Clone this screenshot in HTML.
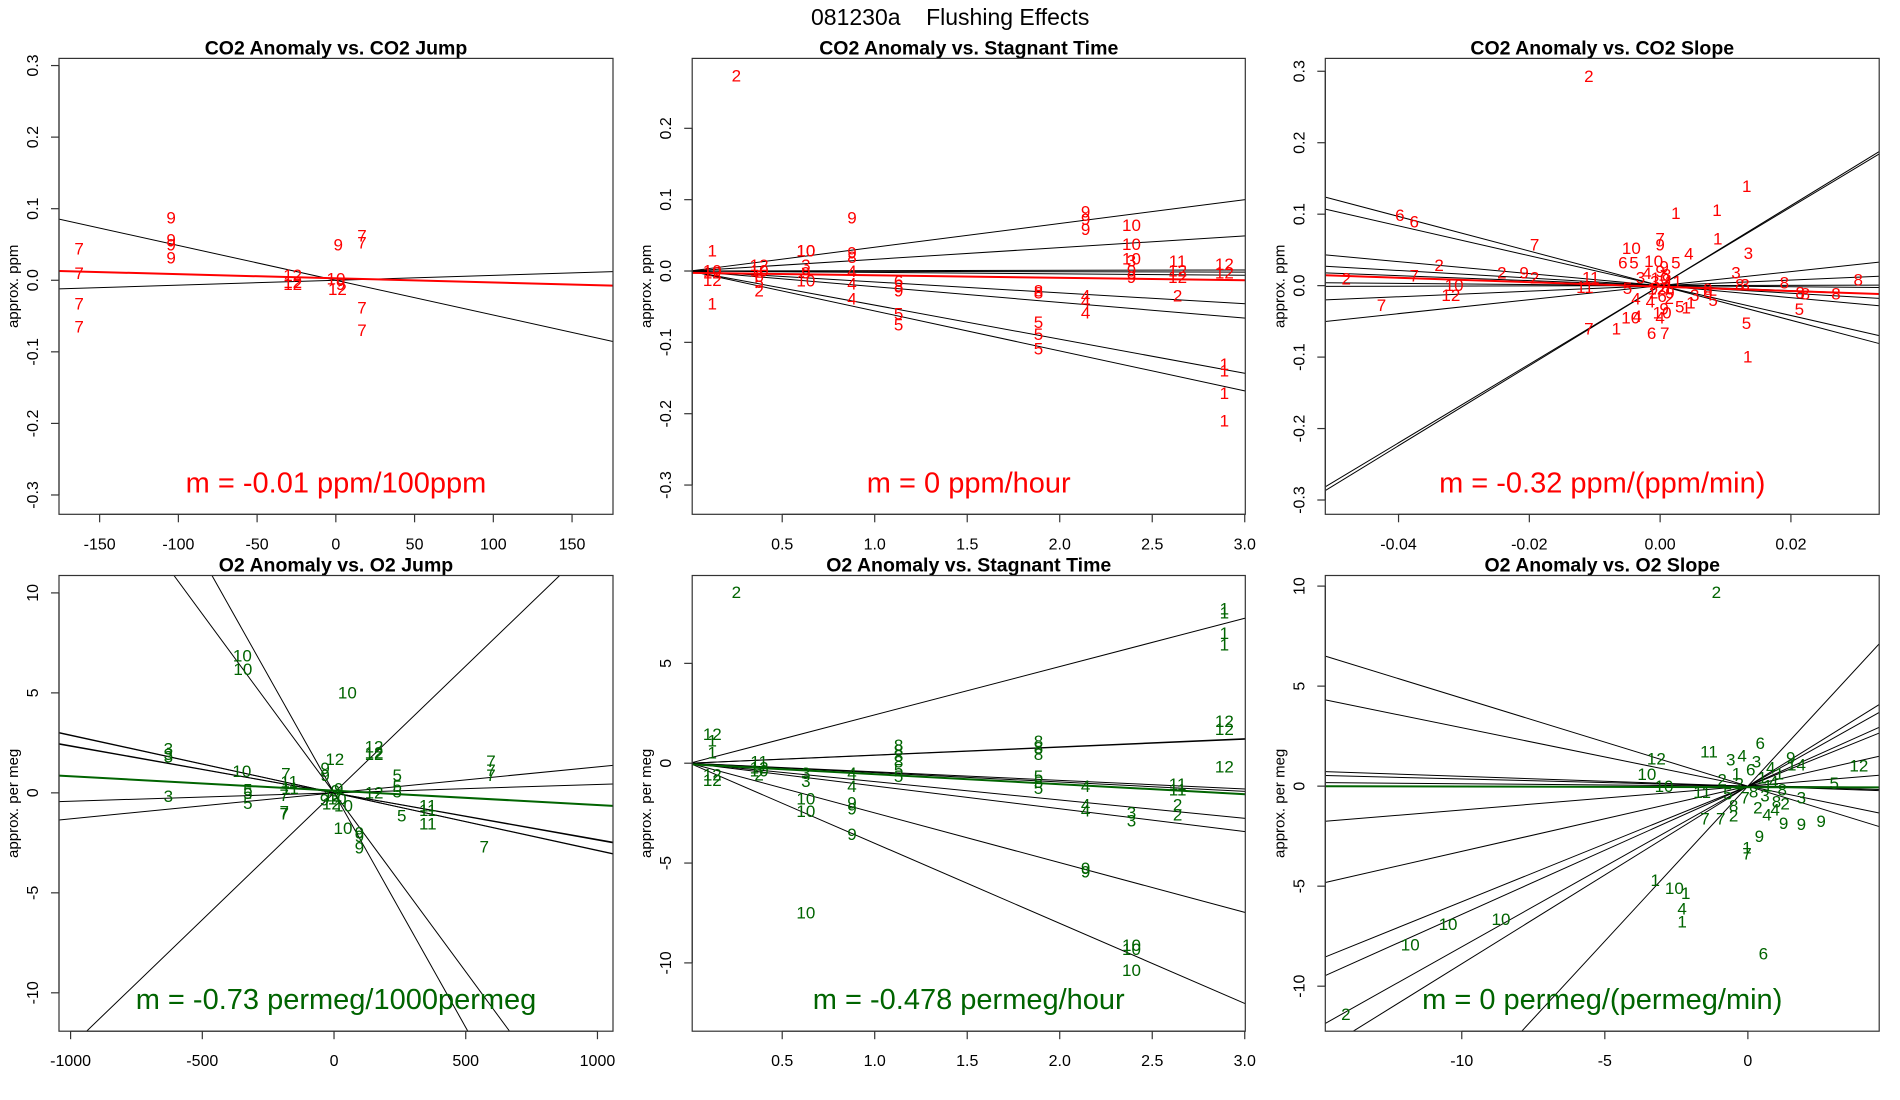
<!DOCTYPE html>
<html><head><meta charset="utf-8"><title>081230a Flushing Effects</title>
<style>
html,body{margin:0;padding:0;background:#fff;width:1900px;height:1100px;overflow:hidden;}
svg{display:block;font-family:"Liberation Sans",Arial,sans-serif;}
</style></head>
<body>
<svg id="chart" width="1900" height="1100" viewBox="0 0 1900 1100" xmlns="http://www.w3.org/2000/svg">
<rect x="0" y="0" width="1900" height="1100" fill="#fff"/>
<text x="811" y="25" font-size="23" fill="#000" xml:space="preserve">081230a    Flushing Effects</text>
</svg>
<script>
// ---------- Panel 1: CO2 Anomaly vs CO2 Jump ----------
const p1X = [-163,-163,-163,-163,-104.6,-104.6,-104.6,-104.6,-27.4,-27.4,-27.4,0.1,1.5,3,1,16.6,16.6,16.6,16.6];
const p1Y = [0.044,0.0095,-0.033,-0.065,0.087,0.056,0.049,0.031,0.007,-0.0056,-0.003,0.002,0.049,-0.006,-0.013,0.062,0.052,-0.039,-0.0705];
const p1L = ["7","7","7","7","9","9","9","9","12","12","12","10","9","9","12","7","7","7","7"];
const p1Slopes = [-0.000486,0.0000682];
const p1Ints = [0,0];
const p1Fit = [-0.0000582,0.0027];
const p1XTicks = [-150,-100,-50,0,50,100,150];
const p1XTickLabels = ["-150","-100","-50","0","50","100","150"];
const p1YTicks = [-0.3,-0.2,-0.1,0,0.1,0.2,0.3];
const p1YTickLabels = ["-0.3","-0.2","-0.1","0.0","0.1","0.2","0.3"];

// ---------- Panel 2: CO2 Anomaly vs Stagnant Time ----------
const p2X = [0.252,0.122,0.122,0.122,0.122,0.122,0.375,0.375,0.375,0.375,0.375,0.628,0.628,0.628,0.628,0.628,0.877,0.877,0.877,0.877,0.877,0.877,1.129,1.129,1.129,1.129,1.129,1.885,1.885,1.885,1.885,1.885,2.14,2.14,2.14,2.14,2.14,2.14,2.388,2.388,2.388,2.388,2.388,2.388,2.637,2.637,2.637,2.637,2.89,2.89,2.89,2.89,2.89,2.89];
const p2Y = [0.273,0.028,-0.046,0.0,-0.003,-0.013,0.008,0.0,-0.008,-0.016,-0.028,0.028,0.028,0.008,-0.003,-0.014,0.074,0.025,0.019,-0.001,-0.018,-0.039,-0.015,-0.021,-0.028,-0.060,-0.076,-0.028,-0.031,-0.072,-0.089,-0.109,0.083,0.072,0.058,-0.035,-0.043,-0.059,0.064,0.037,0.017,0.014,0.0,-0.009,0.013,0.0,-0.009,-0.035,0.009,-0.003,-0.131,-0.140,-0.172,-0.210];
const p2L = ["2","1","1","10","12","12","12","10","6","5","2","10","10","3","9","10","9","9","8","4","4","4","6","8","9","5","5","8","8","5","5","5","9","9","9","4","4","4","10","10","10","3","9","9","11","12","12","2","12","12","1","1","1","1"];
const p2Slopes = [0.0333,0.0164,0.0005,-0.0005,-0.002,-0.0153,-0.022,-0.0478,-0.056];
const p2Ints = [0,0,0,0,0,0,0,0,0];
const p2Fit = [-0.0035,-0.0025];
const p2XTicks = [0.5,1.0,1.5,2.0,2.5,3.0];
const p2XTickLabels = ["0.5","1.0","1.5","2.0","2.5","3.0"];
const p2YTicks = [-0.3,-0.2,-0.1,0,0.1,0.2];
const p2YTickLabels = ["-0.3","-0.2","-0.1","0.0","0.1","0.2"];

// ---------- Panel 3: CO2 Anomaly vs CO2 Slope ----------
const p3X = [-0.0109,0.01325,0.0024,0.0087,0.0088,0.0135,0.0044,-0.0398,-0.0376,-0.0192,-0.0044,-0.0057,-0.004,-0.001,0.0024,0,0,0.0006,-0.0338,-0.0376,-0.048,-0.0242,-0.0208,-0.0192,-0.0315,-0.032,-0.0426,-0.0106,-0.0115,-0.003,-0.002,-0.005,-0.0037,-0.0045,-0.0035,-0.0015,-0.0109,-0.0067,-0.0013,0.0007,0,0.0003,0.0006,0.0014,0.003,0.004,0.0047,0.0053,0.0073,0.0073,0.0081,0.0116,0.0122,0.013,0.0132,0.0134,0.019,0.0214,0.0222,0.0213,0.0269,0.0303,0,0.0005,-0.0005,0.001,0.0015,-0.0008,0.0003,0.002,0,-0.001,0.0012];
const p3Y = [0.293,0.139,0.101,0.105,0.065,0.045,0.044,0.098,0.089,0.057,0.052,0.032,0.032,0.034,0.032,0.065,0.057,0.026,0.028,0.0136,0.0096,0.0175,0.0175,0.0105,0.0,-0.0135,-0.028,0.0105,-0.0026,0.011,0.017,-0.0037,-0.019,-0.045,-0.043,-0.023,-0.061,-0.061,-0.067,-0.067,-0.045,-0.038,-0.033,-0.018,-0.030,-0.031,-0.024,-0.0136,-0.0051,-0.0097,-0.0211,0.0175,0.001,0.001,-0.053,-0.1,0.0039,-0.0103,-0.012,-0.0336,-0.012,0.0079,0.01,0.0,-0.005,0.015,-0.01,0.005,-0.015,0.005,0.02,-0.01,-0.003];
const p3L = ["2","1","1","1","1","3","4","6","6","7","10","6","5","10","5","7","9","9","2","7","2","2","9","2","10","12","7","11","11","3","4","5","4","10","4","4","7","1","6","7","4","10","9","2","5","1","1","3","8","8","5","3","8","3","5","1","8","8","8","5","8","8","10","7","12","8","9","3","6","11","9","2","1"];
const p3Slopes = [5.6,5.5,-2.42,-2.09,-0.84,-0.53,-0.35,-0.078,0.02,0.39,0.98];
const p3Ints = [0,0,0,0,0,0,0,0,0,0,0];
const p3Fit = [-0.31,-0.0014];
const p3XTicks = [-0.04,-0.02,0,0.02];
const p3XTickLabels = ["-0.04","-0.02","0.00","0.02"];
const p3YTicks = [-0.3,-0.2,-0.1,0,0.1,0.2,0.3];
const p3YTickLabels = ["-0.3","-0.2","-0.1","0.0","0.1","0.2","0.3"];

// ---------- Panel 4: O2 Anomaly vs O2 Jump ----------
const p4X = [-348,-346,50.6,-629,-629,-629,-629,-350,-183,-170,-167,-327,-327,-327,-189,-189,-189,3,-34,-34,-36,-10,36,152,152,152,152,240,240,240,257,356,356,356,34,96,96,96,596,596,596,570,5,12,-5,18];
const p4Y = [6.84,6.18,5.0,2.2,1.93,1.8,-0.17,1.07,0.95,0.54,0.23,0.15,-0.03,-0.53,-0.12,-0.96,-1.07,1.67,1.22,0.86,-0.35,-0.57,-0.65,2.3,1.93,2.0,0,0.86,0.33,0.04,-1.16,-0.65,-0.89,-1.55,-1.78,-2.0,-2.18,-2.75,1.58,1.13,0.86,-2.7,0.1,-0.3,-0.15,0.2];
const p4L = ["10","10","10","3","3","3","3","10","7","11","11","5","5","5","7","7","7","12","9","9","9","12","10","12","12","12","12","5","5","5","5","11","11","11","10","9","9","9","7","7","7","7","9","10","12","9"];
const p4Slopes = [-0.01789,-0.02346,0.01269,-0.00287,-0.00233,0.00042,0.00130,-0.00236,-0.00289];
const p4Ints = [0,0,0,0,0,0,0,0,0];
const p4Fit = [-0.000718,0.11];
const p4XTicks = [-1000,-500,0,500,1000];
const p4XTickLabels = ["-1000","-500","0","500","1000"];
const p4YTicks = [-10,-5,0,5,10];
const p4YTickLabels = ["-10","-5","0","5","10"];

// ---------- Panel 5: O2 Anomaly vs Stagnant Time ----------
const p5X = [0.252,2.89,2.89,2.89,2.89,0.122,0.122,0.122,0.122,0.122,0.375,0.375,0.375,0.375,0.628,0.628,0.628,0.628,0.628,0.877,0.877,0.877,0.877,0.877,1.129,1.129,1.129,1.129,1.129,1.129,1.885,1.885,1.885,1.885,1.885,1.885,2.14,2.14,2.14,2.14,2.14,2.388,2.388,2.388,2.388,2.388,2.637,2.637,2.637,2.637,2.89,2.89,2.89];
const p5Y = [8.54,7.72,7.52,6.5,5.92,1.45,1.12,0.51,-0.59,-0.86,0.06,-0.25,-0.4,-0.6,-0.52,-0.92,-1.78,-2.43,-7.5,-0.52,-1.17,-1.99,-2.29,-3.58,0.88,0.63,0.37,0.06,-0.35,-0.66,1.08,0.77,0.43,-0.66,-0.96,-1.27,-1.17,-2.09,-2.4,-5.26,-5.46,-2.5,-2.9,-9.14,-9.34,-10.37,-1.07,-1.33,-2.09,-2.6,2.1,1.69,-0.18];
const p5L = ["2","1","1","1","1","12","1","1","12","12","11","12","10","2","3","3","10","10","10","4","4","9","9","9","8","8","8","8","5","5","8","8","8","5","5","5","4","4","4","9","9","3","3","10","10","10","11","11","2","2","12","12","12"];
const p5Slopes = [2.42,0.41,0.40,-0.43,-0.47,-0.92,-1.14,-2.49,-4.01];
const p5Ints = [0,0,0,0,0,0,0,0,0];
const p5Fit = [-0.5,-0.05];
const p5XTicks = [0.5,1.0,1.5,2.0,2.5,3.0];
const p5XTickLabels = ["0.5","1.0","1.5","2.0","2.5","3.0"];
const p5YTicks = [-10,-5,0,5];
const p5YTickLabels = ["-10","-5","0","5"];

// ---------- Panel 6: O2 Anomaly vs O2 Slope ----------
const p6X = [-1.1,-14.05,-11.8,-10.48,-8.63,-3.24,-2.57,-2.17,-2.3,-2.3,0.54,-0.03,-0.03,0.4,1.25,1.87,2.56,1.87,3.88,3.02,-3.2,-3.53,-2.93,-1.6,-1.36,0.43,1.5,1.7,-1.5,-0.95,-0.5,0.67,-0.6,-0.2,0.3,0.8,1.1,-0.9,-0.4,0.1,0.5,0.9,1.2,-0.7,-0.1,0.2,0.6,1.0,-0.3,0.7,-0.5,0.35,0.95,1.3];
const p6Y = [9.67,-11.41,-7.94,-6.92,-6.66,-4.72,-5.12,-5.37,-6.14,-6.8,-8.39,-3.08,-3.39,-2.51,-1.86,-1.92,-1.76,-0.6,1.0,0.14,1.36,0.59,-0.02,-0.33,1.7,2.12,1.4,1.05,-1.65,-1.65,-1.5,-1.45,1.3,1.5,1.2,0.9,0.6,0.3,0.6,0.8,0.4,0.2,-0.2,-0.4,-0.6,-0.3,-0.5,-0.8,0.1,0.0,-1.0,-1.1,-1.2,-0.9];
const p6L = ["2","2","10","10","10","1","10","1","4","1","6","1","7","9","9","9","9","3","12","5","12","10","10","11","11","6","9","14","7","7","2","4","3","4","3","4","1","2","1","6","1","4","8","5","7","8","3","8","2","1","8","2","4","2"];
const p6Slopes = [-0.44,-0.292,-0.049,-0.036,-0.012,0.119,0.326,0.578,0.641,0.803,0.888,1.55];
const p6Ints = [0,0,0,0,0,0,0,0,0,0,0,0];
const p6Fit = [-0.003,-0.05];
const p6XTicks = [-10,-5,0];
const p6XTickLabels = ["-10","-5","0"];
const p6YTicks = [-10,-5,0,5,10];
const p6YTickLabels = ["-10","-5","0","5","10"];

const RED = "#ff0000", GREEN = "#006400";
const svg = document.getElementById('chart');
const NS = "http://www.w3.org/2000/svg";
function mk(tag, attrs, parent){
  const e = document.createElementNS(NS, tag);
  for (const k in attrs) e.setAttribute(k, attrs[k]);
  (parent||svg).appendChild(e);
  return e;
}

const panels = [
  {id:"co2-jump", title:"CO2 Anomaly vs. CO2 Jump", L:59, R:613, T:58.4, B:514.3, x0:-175.8, x1:176, y0:-0.327, y1:0.31,
   px:p1X, py:p1Y, pl:p1L, sl:p1Slopes, ic:p1Ints, fit:p1Fit, xt:p1XTicks, xtl:p1XTickLabels, yt:p1YTicks, ytl:p1YTickLabels,
   color:RED, ylab:"approx. ppm", note:"m = -0.01 ppm/100ppm"},
  {id:"co2-stagnant", title:"CO2 Anomaly vs. Stagnant Time", L:692.2, R:1245.3, T:58.4, B:514.3, x0:0.0135, x1:3.003, y0:-0.341, y1:0.298,
   px:p2X, py:p2Y, pl:p2L, sl:p2Slopes, ic:p2Ints, fit:p2Fit, xt:p2XTicks, xtl:p2XTickLabels, yt:p2YTicks, ytl:p2YTickLabels,
   color:RED, ylab:"approx. ppm", note:"m = 0 ppm/hour"},
  {id:"co2-slope", title:"CO2 Anomaly vs. CO2 Slope", L:1325.3, R:1879.2, T:58.4, B:514.3, x0:-0.0512, x1:0.0335, y0:-0.32, y1:0.318,
   px:p3X, py:p3Y, pl:p3L, sl:p3Slopes, ic:p3Ints, fit:p3Fit, xt:p3XTicks, xtl:p3XTickLabels, yt:p3YTicks, ytl:p3YTickLabels,
   color:RED, ylab:"approx. ppm", note:"m = -0.32 ppm/(ppm/min)"},
  {id:"o2-jump", title:"O2 Anomaly vs. O2 Jump", L:59, R:613, T:575.5, B:1031.2, x0:-1044, x1:1059, y0:-11.92, y1:10.87,
   px:p4X, py:p4Y, pl:p4L, sl:p4Slopes, ic:p4Ints, fit:p4Fit, xt:p4XTicks, xtl:p4XTickLabels, yt:p4YTicks, ytl:p4YTickLabels,
   color:GREEN, ylab:"approx. per meg", note:"m = -0.73 permeg/1000permeg"},
  {id:"o2-stagnant", title:"O2 Anomaly vs. Stagnant Time", L:692.2, R:1245.3, T:575.5, B:1031.2, x0:0.0135, x1:3.003, y0:-13.42, y1:9.40,
   px:p5X, py:p5Y, pl:p5L, sl:p5Slopes, ic:p5Ints, fit:p5Fit, xt:p5XTicks, xtl:p5XTickLabels, yt:p5YTicks, ytl:p5YTickLabels,
   color:GREEN, ylab:"approx. per meg", note:"m = -0.478 permeg/hour"},
  {id:"o2-slope", title:"O2 Anomaly vs. O2 Slope", L:1325.3, R:1879.2, T:575.5, B:1031.2, x0:-14.77, x1:4.59, y0:-12.25, y1:10.53,
   px:p6X, py:p6Y, pl:p6L, sl:p6Slopes, ic:p6Ints, fit:p6Fit, xt:p6XTicks, xtl:p6XTickLabels, yt:p6YTicks, ytl:p6YTickLabels,
   color:GREEN, ylab:"approx. per meg", note:"m = 0 permeg/(permeg/min)"}
];

// clip y = s*x + b to the panel's data rectangle; returns [xa, xb] or null
function clipRange(p, s, b){
  let xa = p.x0, xb = p.x1;
  if (s !== 0){
    const xA = (p.y0 - b) / s, xB = (p.y1 - b) / s;
    xa = Math.max(xa, Math.min(xA, xB));
    xb = Math.min(xb, Math.max(xA, xB));
  } else if (b < p.y0 || b > p.y1) return null;
  return xa < xb ? [xa, xb] : null;
}

panels.forEach(function(p, idx){
  const sx = v => p.L + (v - p.x0) / (p.x1 - p.x0) * (p.R - p.L);
  const sy = v => p.B - (v - p.y0) / (p.y1 - p.y0) * (p.B - p.T);
  const g = mk('g', {});
  
  
  const defs = mk('defs', {}, g);
  const cp = mk('clipPath', {id:'clip'+idx}, defs);
  mk('rect', {x:p.L, y:p.T, width:p.R-p.L, height:p.B-p.T}, cp);

  const title = mk('text', {x:(p.L+p.R)/2, y:p.T-4, 'text-anchor':'middle', 'font-size':19.5, 'font-weight':'bold', fill:'#000'}, g);
  title.textContent = p.title;
  
  

  const lg = mk('g', {'clip-path':'url(#clip'+idx+')'}, g);
  p.sl.forEach(function(s, i){
    const b = p.ic[i];
    const r = clipRange(p, s, b);
    if (!r) return;
    const ln = mk('line', {x1:sx(r[0]), y1:sy(s*r[0]+b), x2:sx(r[1]), y2:sy(s*r[1]+b), stroke:'#000', 'stroke-width':1}, lg);
    
    
  });
  p.px.forEach(function(x, i){
    const t = mk('text', {x:sx(x), y:sy(p.py[i]), 'text-anchor':'middle', 'dominant-baseline':'central', 'font-size':17, fill:p.color}, lg);
    t.textContent = p.pl[i];
    
    
  });
  const fr = clipRange(p, p.fit[0], p.fit[1]);
  if (fr){
    const f = mk('line', {x1:sx(fr[0]), y1:sy(p.fit[0]*fr[0]+p.fit[1]), x2:sx(fr[1]), y2:sy(p.fit[0]*fr[1]+p.fit[1]), stroke:p.color, 'stroke-width':2}, lg);
    
    
  }

  const box = mk('rect', {x:p.L, y:p.T, width:p.R-p.L, height:p.B-p.T, fill:'none', stroke:'#333', 'stroke-width':1.2}, g);
  
  

  const xa = mk('g', {}, g);
  
  
  mk('line', {x1:sx(p.xt[0]), y1:p.B, x2:sx(p.xt[p.xt.length-1]), y2:p.B, stroke:'#333', 'stroke-width':1.2}, xa);
  p.xt.forEach(function(v, i){
    mk('line', {x1:sx(v), y1:p.B, x2:sx(v), y2:p.B+8, stroke:'#333', 'stroke-width':1.2}, xa);
    const t = mk('text', {x:sx(v), y:p.B+35, 'text-anchor':'middle', 'font-size':16, fill:'#000'}, xa);
    t.textContent = p.xtl[i];
    
    
  });
  const ya = mk('g', {}, g);
  
  
  mk('line', {x1:p.L, y1:sy(p.yt[0]), x2:p.L, y2:sy(p.yt[p.yt.length-1]), stroke:'#333', 'stroke-width':1.2}, ya);
  p.yt.forEach(function(v, i){
    mk('line', {x1:p.L, y1:sy(v), x2:p.L-8, y2:sy(v), stroke:'#333', 'stroke-width':1.2}, ya);
    const xx = p.L-21, yy = sy(v);
    const t = mk('text', {x:xx, y:yy, 'text-anchor':'middle', 'font-size':16, fill:'#000', transform:'rotate(-90 '+xx+' '+yy+')'}, ya);
    t.textContent = p.ytl[i];
    
    
  });
  const yl = mk('text', {x:p.L-41, y:(p.T+p.B)/2, 'text-anchor':'middle', 'font-size':15, fill:'#000', transform:'rotate(-90 '+(p.L-41)+' '+((p.T+p.B)/2)+')'}, g);
  yl.textContent = p.ylab;
  
  

  const note = mk('text', {x:(p.L+p.R)/2, y:p.B-22, 'text-anchor':'middle', 'font-size':29, fill:p.color}, g);
  note.textContent = p.note;
  
  
});
</script>
</body></html>
